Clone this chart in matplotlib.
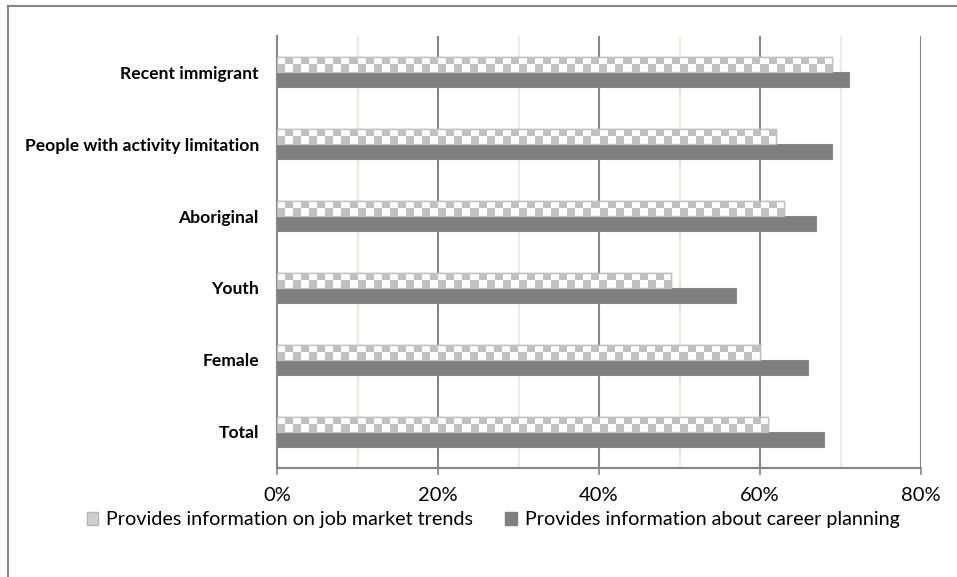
import numpy as np
import matplotlib
matplotlib.use("Agg")
import matplotlib.pyplot as plt
from matplotlib.patches import Patch
from matplotlib.lines import Line2D

categories = ["Recent immigrant", "People with activity limitation", "Aboriginal",
              "Youth", "Female", "Total"]
job_market = [69, 62, 63, 49, 60, 61]
career_planning = [71, 69, 67, 57, 66, 68]
tick_labels = ["0%", "20%", "40%", "60%", "80%"]
series_names = ["Provides information on job market trends",
                "Provides information about career planning"]

plt.rcParams['font.family'] = ['Lato', 'DejaVu Sans']

fig = plt.figure(figsize=(9.57, 5.77), dpi=100)
ax = fig.add_axes([277 / 957, 1 - 468 / 577, (921 - 277) / 957, (468 - 36) / 577])

n = len(categories)
y = np.arange(n)
h = 0.21

# minor gridlines (light) and major gridlines (grey)
for xv in [10, 30, 50, 70]:
    ax.axvline(xv, color="#eeeadc", lw=1.6, zorder=0)
for xv in [20, 40, 60, 80]:
    ax.axvline(xv, color="#868686", lw=1.5, zorder=0)

light_gray = "#c0c0c0"
for yi, v in zip(y, job_market):
    y0, y1 = yi - h, yi
    bar = ax.barh(yi - h / 2, v, height=h, color="white", edgecolor=light_gray,
                  lw=1.0, zorder=2)[0]
    ncol = int(np.ceil(v))
    checker = np.indices((2, ncol)).sum(axis=0) % 2
    img = ax.imshow(checker, cmap=matplotlib.colors.ListedColormap(["white", light_gray]),
                    extent=(0, ncol, y1, y0), aspect="auto", interpolation="nearest",
                    zorder=3)
    img.set_clip_path(bar)
    ax.barh(yi - h / 2, v, height=h, color="none", edgecolor=light_gray, lw=1.0, zorder=4)

ax.barh(y + h / 2, career_planning, height=h, color="#7f7f7f", edgecolor="#8a8a8a",
        lw=0.8, zorder=2)

ax.set_xlim(0, 80)
ax.set_ylim(n - 0.5, -0.5)
ax.set_xticks([0, 20, 40, 60, 80])
ax.set_xticklabels(tick_labels, fontsize=14.5)
ax.set_yticks(y)
ax.set_yticklabels(categories, fontsize=12.6, fontweight="bold")
ax.tick_params(axis="y", length=0, pad=13)
ax.tick_params(axis="x", length=5, color="#868686", width=1.2, pad=9)

for s in ["top", "right"]:
    ax.spines[s].set_visible(False)
for s in ["left", "bottom"]:
    ax.spines[s].set_color("#868686")
    ax.spines[s].set_linewidth(1.5)

handles = [Patch(facecolor="#d0d0d0", edgecolor="#b5b5b5", label=series_names[0]),
           Patch(facecolor="#7f7f7f", edgecolor="#7f7f7f", label=series_names[1])]
fig.legend(handles=handles, loc="center", bbox_to_anchor=(493 / 957, 1 - 520 / 577),
           ncol=2, frameon=False, fontsize=14.2, handlelength=0.6, handleheight=0.6,
           handletextpad=0.4, columnspacing=1.6)

# chart frame
fig.add_artist(Line2D([8 / 957, 1], [1 - 6 / 577, 1 - 6 / 577], color="#868686", lw=1.5))
fig.add_artist(Line2D([8 / 957, 8 / 957], [0, 1 - 6 / 577], color="#868686", lw=1.5))

fig.savefig("out.png", dpi=100)
